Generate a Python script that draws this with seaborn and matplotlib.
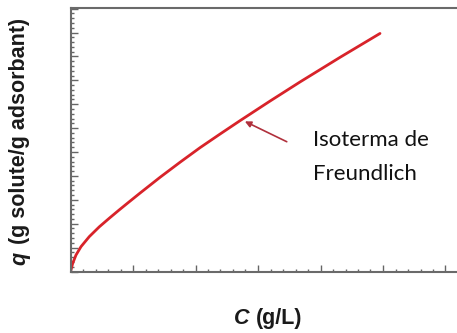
import matplotlib
matplotlib.use("Agg")
import matplotlib.pyplot as plt
from matplotlib.ticker import MultipleLocator
import seaborn as sns
import pandas as pd

# Values (C and q in major-tick units)
conc = [0.0, 0.035, 0.088, 0.168, 0.301, 0.461, 0.621, 0.781, 0.941, 1.112,
        1.432, 1.752, 2.072, 2.392, 2.712, 3.192, 3.672, 4.312, 4.952]
q_vals = [0.0, 0.34, 0.69, 1.04, 1.46, 1.87, 2.23, 2.58, 2.92, 3.28,
          3.94, 4.57, 5.18, 5.75, 6.31, 7.13, 7.93, 8.96, 9.96]
annot_lines = ["Isoterma de", "Freundlich"]
xlabel_var = "C"
xlabel_unit = "(g/L)"
ylabel_var = "q"
ylabel_unit = "(g solute/g adsorbant)"

df = pd.DataFrame({"C": conc, "q": q_vals})

sns.set_style("white")
W, H = 457, 333
fig = plt.figure(figsize=(W / 100, H / 100), dpi=100)
ax = fig.add_axes([70.5 / W, (H - 271.5) / H, 1 - 70.5 / W, 263.5 / H])

sns.lineplot(data=df, x="C", y="q", ax=ax, color="#d8232a", linewidth=2.0,
             sort=False, estimator=None, solid_capstyle="round",
             solid_joinstyle="round")

ax.set_xlim(0, (W - 70.5) / 62.5)
ax.set_ylim(0, 263.5 / 23.9)
ax.xaxis.set_major_locator(MultipleLocator(1))
ax.xaxis.set_minor_locator(MultipleLocator(0.2))
ax.yaxis.set_major_locator(MultipleLocator(1))
ax.yaxis.set_minor_locator(MultipleLocator(0.2))
ax.tick_params(axis="both", which="both", direction="in", labelleft=False,
               labelbottom=False, color="#666666", width=1.0,
               left=True, bottom=True, top=False, right=False)
ax.tick_params(axis="both", which="major", length=5)
ax.tick_params(axis="both", which="minor", length=2.5)

for side in ["left", "bottom", "top"]:
    ax.spines[side].set_visible(True)
    ax.spines[side].set_color("#6a6a6a")
    ax.spines[side].set_linewidth(1.5)
ax.spines["right"].set_visible(False)
ax.set_xlabel("")
ax.set_ylabel("")

lab_font = dict(family="Liberation Sans", fontweight="bold", size=15.5,
                color="#1a1a1a")

# x label
fig.text(234 / W, (H - 324) / H, xlabel_var, ha="left", va="baseline",
         style="italic", **lab_font)
fig.text(256 / W, (H - 324) / H, xlabel_unit, ha="left", va="baseline",
         **lab_font)

# y label (rotated): italic q at bottom, the unit text above it
fig.text(30 / W, (H - 265) / H, ylabel_var, rotation=90, ha="right",
         va="bottom", style="italic", **lab_font)
fig.text(30 / W, (H - 244) / H, ylabel_unit, rotation=90, ha="right",
         va="bottom", **lab_font)

# Arrow annotation
ax.annotate("", xy=(2.79, 6.28), xytext=(3.46, 5.43),
            arrowprops=dict(arrowstyle="-|>", color="#b0303c", lw=1.2,
                            mutation_scale=9, shrinkA=0, shrinkB=0))
txt_font = dict(family="Lato", size=16, color="#111111")
fig.text(313 / W, (H - 146.5) / H, annot_lines[0], ha="left", va="baseline",
         **txt_font)
fig.text(313 / W, (H - 180) / H, annot_lines[1], ha="left", va="baseline",
         **txt_font)

fig.savefig("out.png", dpi=100)
